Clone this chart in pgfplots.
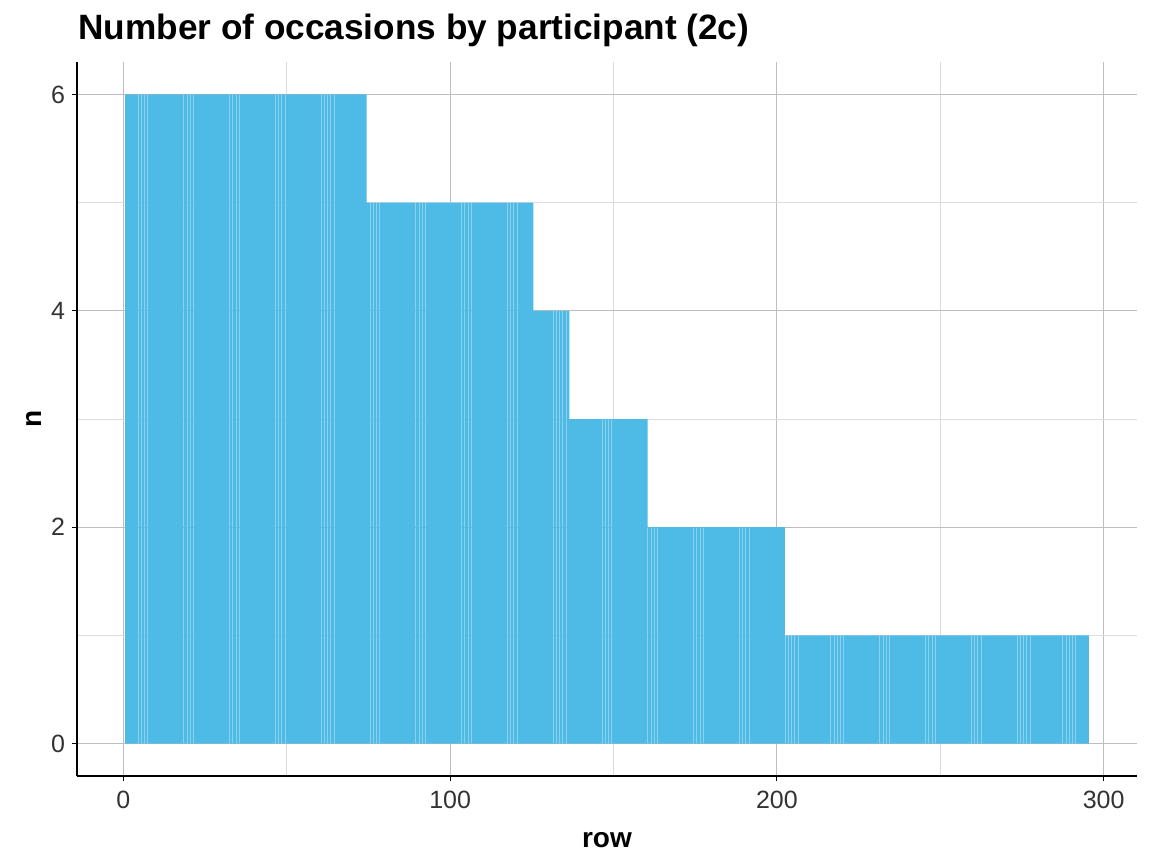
\documentclass[border=0pt]{standalone}
\usepackage{pgfplots}
\pgfplotsset{compat=1.18}
\usepackage{fontspec}
\setmainfont{Liberation Sans}
\definecolor{barblue}{HTML}{4EBAE6}
\definecolor{majgrid}{HTML}{BEBEBE}
\definecolor{mingrid}{HTML}{DCDCDC}
\definecolor{ticktext}{HTML}{333333}
\begin{document}
\begin{tikzpicture}
\useasboundingbox (-38.5pt,-44pt) rectangle (537.5pt,388pt);
\begin{axis}[
  at={(0pt,0pt)}, anchor=south west,
  scale only axis, width=530pt, height=357pt,
  xmin=-14.2, xmax=310.2, ymin=-0.3, ymax=6.3,
  axis x line*=bottom, axis y line*=left,
  axis line style={-, line width=1pt, black},
  xtick={0,100,200,300}, ytick={0,2,4,6},
  minor xtick={50,150,250}, minor ytick={1,3,5},
  grid=both,
  major grid style={majgrid, line width=0.5pt},
  minor grid style={mingrid, line width=0.5pt},
  major tick length=2.5pt, minor tick length=0pt,
  tick align=outside,
  tick style={black, line width=0.5pt},
  tick label style={font=\fontsize{12.5}{14}\selectfont, text=ticktext},
  xticklabel style={yshift=-1.5pt},
  /pgf/number format/assume math mode=true,
  xlabel={\textbf{row}}, ylabel={\textbf{n}},
  label style={font=\fontsize{14}{16}\selectfont},
  xlabel style={yshift=-5pt},
  ylabel style={yshift=-2pt},
  clip=false,
]
\addplot[ybar, bar width=0.9, fill=barblue, draw=none] table[row sep=\\] {
x y\\
1 6\\ 2 6\\ 3 6\\ 4 6\\ 5 6\\ 6 6\\ 7 6\\ 8 6\\ 9 6\\ 10 6\\
11 6\\ 12 6\\ 13 6\\ 14 6\\ 15 6\\ 16 6\\ 17 6\\ 18 6\\ 19 6\\ 20 6\\
21 6\\ 22 6\\ 23 6\\ 24 6\\ 25 6\\ 26 6\\ 27 6\\ 28 6\\ 29 6\\ 30 6\\
31 6\\ 32 6\\ 33 6\\ 34 6\\ 35 6\\ 36 6\\ 37 6\\ 38 6\\ 39 6\\ 40 6\\
41 6\\ 42 6\\ 43 6\\ 44 6\\ 45 6\\ 46 6\\ 47 6\\ 48 6\\ 49 6\\ 50 6\\
51 6\\ 52 6\\ 53 6\\ 54 6\\ 55 6\\ 56 6\\ 57 6\\ 58 6\\ 59 6\\ 60 6\\
61 6\\ 62 6\\ 63 6\\ 64 6\\ 65 6\\ 66 6\\ 67 6\\ 68 6\\ 69 6\\ 70 6\\
71 6\\ 72 6\\ 73 6\\ 74 6\\
75 5\\ 76 5\\ 77 5\\ 78 5\\ 79 5\\ 80 5\\
81 5\\ 82 5\\ 83 5\\ 84 5\\ 85 5\\ 86 5\\ 87 5\\ 88 5\\ 89 5\\ 90 5\\
91 5\\ 92 5\\ 93 5\\ 94 5\\ 95 5\\ 96 5\\ 97 5\\ 98 5\\ 99 5\\ 100 5\\
101 5\\ 102 5\\ 103 5\\ 104 5\\ 105 5\\ 106 5\\ 107 5\\ 108 5\\ 109 5\\ 110 5\\
111 5\\ 112 5\\ 113 5\\ 114 5\\ 115 5\\ 116 5\\ 117 5\\ 118 5\\ 119 5\\ 120 5\\
121 5\\ 122 5\\ 123 5\\ 124 5\\ 125 5\\
126 4\\ 127 4\\ 128 4\\ 129 4\\ 130 4\\
131 4\\ 132 4\\ 133 4\\ 134 4\\ 135 4\\ 136 4\\
137 3\\ 138 3\\ 139 3\\ 140 3\\
141 3\\ 142 3\\ 143 3\\ 144 3\\ 145 3\\ 146 3\\ 147 3\\ 148 3\\ 149 3\\ 150 3\\
151 3\\ 152 3\\ 153 3\\ 154 3\\ 155 3\\ 156 3\\ 157 3\\ 158 3\\ 159 3\\ 160 3\\
161 2\\ 162 2\\ 163 2\\ 164 2\\ 165 2\\ 166 2\\ 167 2\\ 168 2\\ 169 2\\ 170 2\\
171 2\\ 172 2\\ 173 2\\ 174 2\\ 175 2\\ 176 2\\ 177 2\\ 178 2\\ 179 2\\ 180 2\\
181 2\\ 182 2\\ 183 2\\ 184 2\\ 185 2\\ 186 2\\ 187 2\\ 188 2\\ 189 2\\ 190 2\\
191 2\\ 192 2\\ 193 2\\ 194 2\\ 195 2\\ 196 2\\ 197 2\\ 198 2\\ 199 2\\ 200 2\\
201 2\\ 202 2\\
203 1\\ 204 1\\ 205 1\\ 206 1\\ 207 1\\ 208 1\\ 209 1\\ 210 1\\
211 1\\ 212 1\\ 213 1\\ 214 1\\ 215 1\\ 216 1\\ 217 1\\ 218 1\\ 219 1\\ 220 1\\
221 1\\ 222 1\\ 223 1\\ 224 1\\ 225 1\\ 226 1\\ 227 1\\ 228 1\\ 229 1\\ 230 1\\
231 1\\ 232 1\\ 233 1\\ 234 1\\ 235 1\\ 236 1\\ 237 1\\ 238 1\\ 239 1\\ 240 1\\
241 1\\ 242 1\\ 243 1\\ 244 1\\ 245 1\\ 246 1\\ 247 1\\ 248 1\\ 249 1\\ 250 1\\
251 1\\ 252 1\\ 253 1\\ 254 1\\ 255 1\\ 256 1\\ 257 1\\ 258 1\\ 259 1\\ 260 1\\
261 1\\ 262 1\\ 263 1\\ 264 1\\ 265 1\\ 266 1\\ 267 1\\ 268 1\\ 269 1\\ 270 1\\
271 1\\ 272 1\\ 273 1\\ 274 1\\ 275 1\\ 276 1\\ 277 1\\ 278 1\\ 279 1\\ 280 1\\
281 1\\ 282 1\\ 283 1\\ 284 1\\ 285 1\\ 286 1\\ 287 1\\ 288 1\\ 289 1\\ 290 1\\
291 1\\ 292 1\\ 293 1\\ 294 1\\ 295 1\\
};
\end{axis}
\node[anchor=base west, inner sep=0pt, font=\fontsize{17.6}{20}\selectfont\bfseries] at (0.5pt,368pt) {Number of occasions by participant (2c)};
\end{tikzpicture}
\end{document}
